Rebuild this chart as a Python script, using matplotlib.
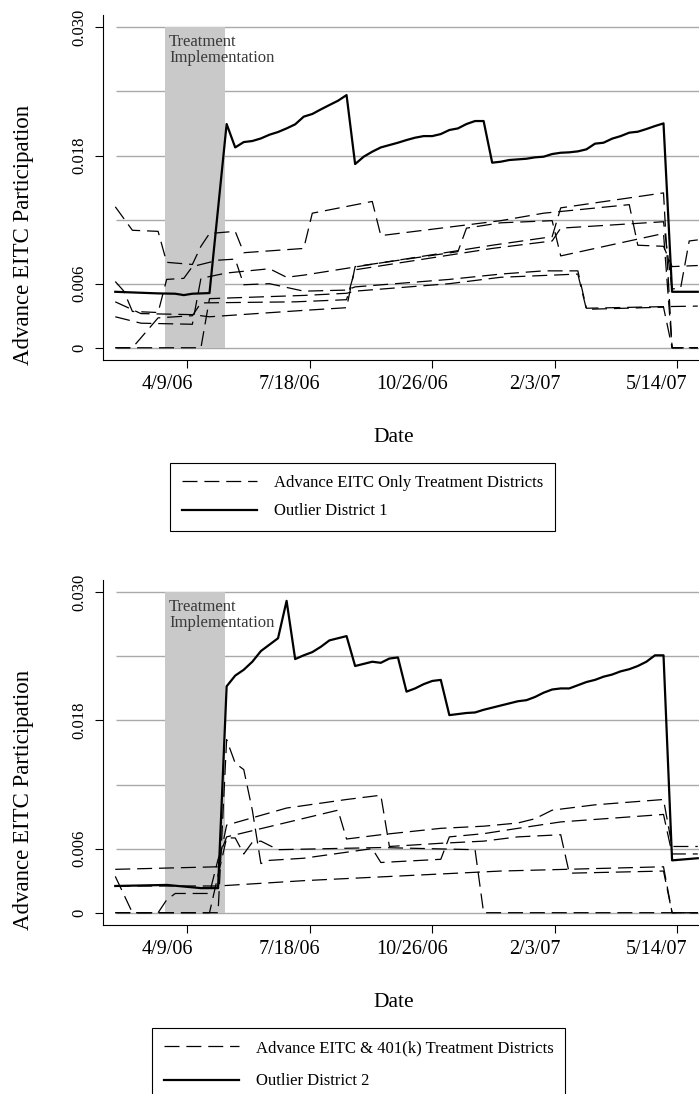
import matplotlib.pyplot as plt
import matplotlib.transforms as mtransforms
import numpy as np

plt.rcParams['font.family'] = ['Liberation Serif', 'DejaVu Serif']

# weekly observations, week 0 = 2/9/06
start = np.datetime64("2006-02-09")
tick_dates = np.array(["2006-04-09", "2006-07-18", "2006-10-26", "2007-02-03", "2007-05-14"], dtype="datetime64[D]")
tick_labels = ["4/9/06", "7/18/06", "10/26/06", "2/3/07", "5/14/07"]
y_ticks = [0, 0.006, 0.018, 0.030]
y_tick_labels = ["0", "0.006", "0.018", "0.030"]
grid_levels = [0, 0.006, 0.012, 0.018, 0.024, 0.030]
treat_period = np.array(["2006-03-22", "2006-05-10"], dtype="datetime64[D]")

# ---- top panel (values are participation x 1000) ----
out1_wk = [0, 5, 7, 8, 9, 11, 13, 14, 15, 16, 17, 18, 19, 20, 21, 22, 23, 24, 25, 26, 27,
           28, 29, 30, 31, 32, 33, 34, 35, 36, 37, 38, 39, 40, 41, 42, 43,
           44, 45, 46, 47, 48, 49, 50, 51, 52, 53, 54, 55, 56, 57, 58, 59, 60, 61, 62, 63, 64,
           65, 68]
out1_v = [5.24, 5.09, 5.06, 4.93, 5.06, 5.12, 20.95, 18.76, 19.26, 19.36, 19.60, 19.95, 20.20, 20.54, 20.92,
          21.64, 21.89, 22.32, 22.73, 23.13, 23.66,
          17.20, 17.89, 18.36, 18.76, 18.98, 19.20, 19.45, 19.67, 19.82, 19.82, 20.01, 20.39, 20.54, 20.95, 21.23, 21.23,
          17.33, 17.42, 17.58, 17.64, 17.70, 17.83, 17.89, 18.14, 18.26, 18.30, 18.39, 18.58, 19.11, 19.20, 19.58,
          19.82, 20.14, 20.23, 20.48, 20.76, 21.01,
          5.24, 5.24]

t_a_wk = [0, 2, 5, 6, 9, 10, 11, 14, 15, 22, 23, 30, 31, 45, 50, 60, 61, 64, 65, 68]
t_a_v = [13.2, 11.0, 10.9, 8.0, 7.8, 9.5, 10.7, 10.9, 8.9, 9.3, 12.6, 13.7, 10.5, 11.9, 12.6, 13.4, 9.6, 9.5, 7.6, 7.7]
t_b_wk = [0, 1, 2, 5, 6, 8, 9, 12, 14, 15, 18, 22, 27, 28, 39, 45, 50, 54, 55, 64, 68]
t_b_v = [6.2, 5.3, 3.4, 3.3, 6.4, 6.5, 7.6, 8.2, 8.3, 5.9, 6.0, 5.3, 5.4, 5.7, 6.4, 6.9, 7.2, 7.2, 3.7, 3.85, 3.9]
t_c_wk = [0, 3, 9, 11, 22, 27, 28, 40, 41, 45, 51, 52, 64, 65, 68]
t_c_v = [4.3, 3.2, 3.1, 2.9, 3.5, 3.75, 7.6, 9.0, 11.2, 11.7, 11.9, 8.6, 10.7, 0, 0]
t_d_wk = [0, 3, 9, 10, 13, 18, 20, 22, 44, 51, 52, 64, 65, 68]
t_d_v = [2.9, 2.3, 2.2, 6.5, 7.0, 7.4, 6.6, 6.8, 9.6, 10.4, 13.1, 14.5, 0, 0]
t_e_wk = [0, 2, 5, 9, 10, 21, 27, 28, 44, 51, 52, 64, 65, 66, 67, 68]
t_e_v = [0, 0, 2.8, 3.0, 4.2, 4.3, 4.5, 7.3, 9.3, 10.0, 11.2, 11.8, 5.5, 5.6, 10.0, 10.1]
t_f_wk = [0, 10, 11, 22, 27, 28, 39, 45, 54, 55, 64, 65, 68]
t_f_v = [0, 0, 4.6, 4.9, 5.1, 5.3, 6.0, 6.6, 6.9, 3.6, 3.8, 0, 0]

# ---- bottom panel ----
out2_wk = [0, 6, 10, 12, 13, 14, 15, 16, 17, 18, 19, 20, 21, 22, 23, 24, 25, 26, 27,
           28, 29, 30, 31, 32, 33, 34, 35, 36, 37, 38, 39, 40, 41, 42, 43, 44, 45, 46, 47, 48,
           49, 50, 51, 52, 53, 54, 55, 56, 57, 58, 59, 60, 61, 62, 63, 64, 65, 68]
out2_v = [2.5, 2.6, 2.3, 2.3, 21.2, 22.2, 22.75, 23.5, 24.5, 25.1, 25.7, 29.2, 23.75, 24.1, 24.4, 24.9, 25.5, 25.7, 25.9,
          23.1, 23.3, 23.5, 23.4, 23.8, 23.9, 20.7, 21.0, 21.4, 21.7, 21.8, 18.5, 18.6, 18.7, 18.75, 19.0, 19.2, 19.4, 19.6,
          19.8, 19.9, 20.2, 20.6, 20.9, 21.0, 21.0, 21.3, 21.6, 21.8, 22.1, 22.3, 22.6, 22.8, 23.1, 23.5, 24.1, 24.1,
          4.9, 5.1]

b_p_wk = [0, 12, 13, 14, 15, 16, 17, 18, 22, 30, 31, 38, 39, 43, 47, 52, 64, 65, 68]
b_p_v = [0, 0, 16.2, 14.0, 13.4, 9.6, 4.6, 4.9, 5.1, 6.0, 4.7, 5.0, 7.1, 7.4, 7.9, 8.5, 9.2, 5.5, 5.5]
b_s_wk = [0, 12, 13, 20, 27, 31, 32, 38, 43, 47, 52, 53, 64, 65, 68]
b_s_v = [4.06, 4.3, 8.2, 9.8, 10.6, 11.0, 6.2, 6.5, 6.7, 7.1, 7.3, 3.7, 3.9, 0, 0]
b_q_wk = [0, 2, 5, 6, 7, 11, 12, 13, 26, 27, 29, 31, 38, 43, 47, 49, 51, 56, 64, 65, 68]
b_q_v = [3.4, 0, 0, 1.2, 1.8, 1.8, 5.0, 7.1, 9.6, 6.9, 7.1, 7.3, 7.9, 8.1, 8.4, 8.8, 9.6, 10.1, 10.6, 6.2, 6.2]
b_r_wk = [0, 11, 12, 13, 14, 15, 16, 17, 19, 31, 42, 43, 68]
b_r_v = [0, 0, 3.5, 7.0, 7.0, 5.5, 6.6, 6.7, 5.9, 6.1, 5.9, 0, 0]
b_l_wk = [0, 12, 22, 45, 64, 65, 68]
b_l_v = [2.5, 2.5, 3.0, 3.9, 4.3, 0, 0]


def to_dates(weeks):
    return start + np.array(weeks) * 7


def draw_panel(ax, dashed, out_wk, out_v, dash_label, out_label, legend_xy, row_gap):
    fig = ax.figure
    x_end = start + 477
    ax.set_xlim(start - 10, x_end)
    ax.set_ylim(-0.00115, 0.03115)
    ax.hlines(grid_levels, start + 1, x_end, color="#a9a9a9", lw=1.0, zorder=1)
    ax.fill_between(treat_period, 0, 0.030, color="#c9c9c9", lw=0, zorder=1.5)
    ax.text(treat_period[0] + 3, 0.0294, "Treatment\nImplementation", va="top", ha="left",
            fontsize=12, color="#3a3a3a", linespacing=1.0, zorder=4)

    dash_handle = None
    for wk, v in dashed:
        line, = ax.plot(to_dates(wk), np.array(v) / 1000, color="black", lw=0.9,
                        linestyle=(0, (12, 5.5)), zorder=2)
        dash_handle = line
    out_handle, = ax.plot(to_dates(out_wk), np.array(out_v) / 1000, color="black", lw=1.6, zorder=3)

    for side in ["top", "right"]:
        ax.spines[side].set_visible(False)
    for side in ["left", "bottom"]:
        ax.spines[side].set_linewidth(0.8)

    ax.set_yticks(y_ticks)
    ax.set_yticklabels(y_tick_labels, rotation=90, va="center")
    ax.set_xticks(tick_dates)
    ax.set_xticklabels(tick_labels)
    ax.tick_params(axis="y", length=6, width=0.8, labelsize=12, pad=5)
    ax.tick_params(axis="x", length=6, width=0.8, labelsize=14.5, pad=5)
    # date labels sit a bit left of their ticks, as in the original
    shift = mtransforms.ScaledTranslation(-0.20, 0, fig.dpi_scale_trans)
    for lab in ax.get_xticklabels():
        lab.set_transform(lab.get_transform() + shift)

    ax.set_ylabel("Advance EITC Participation", fontsize=16.5)
    ax.yaxis.set_label_coords(-0.133, 0.362)
    ax.yaxis.label.set_va("center")
    ax.set_xlabel("Date", fontsize=15.5)
    ax.xaxis.set_label_coords(0.487, -0.224)
    ax.xaxis.label.set_va("center")

    leg = ax.legend([dash_handle, out_handle], [dash_label, out_label], loc="upper left",
                    bbox_to_anchor=legend_xy, bbox_transform=fig.transFigure,
                    frameon=True, fancybox=False, edgecolor="black", framealpha=1,
                    fontsize=12, handlelength=4.5, handletextpad=1.0,
                    labelspacing=row_gap, borderpad=0.72, borderaxespad=0)
    leg.get_frame().set_linewidth(0.8)


fig = plt.figure(figsize=(6.99, 10.94), dpi=100)
ax1 = fig.add_axes([0.1474, 0.6709, 0.8526, 0.3153])
ax2 = fig.add_axes([0.1474, 0.1545, 0.8526, 0.3153])

top_dashed = [(t_a_wk, t_a_v), (t_b_wk, t_b_v), (t_c_wk, t_c_v),
              (t_d_wk, t_d_v), (t_e_wk, t_e_v), (t_f_wk, t_f_v)]
bottom_dashed = [(b_p_wk, b_p_v), (b_s_wk, b_s_v), (b_q_wk, b_q_v),
                 (b_r_wk, b_r_v), (b_l_wk, b_l_v)]

draw_panel(ax1, top_dashed, out1_wk, out1_v, "Advance EITC Only Treatment Districts",
           "Outlier District 1", (170 / 699, 1 - 463 / 1094), 0.74)
draw_panel(ax2, bottom_dashed, out2_wk, out2_v, "Advance EITC & 401(k) Treatment Districts",
           "Outlier District 2", (152 / 699, 1 - 1028 / 1094), 1.04)

fig.savefig("out.png", dpi=100)
